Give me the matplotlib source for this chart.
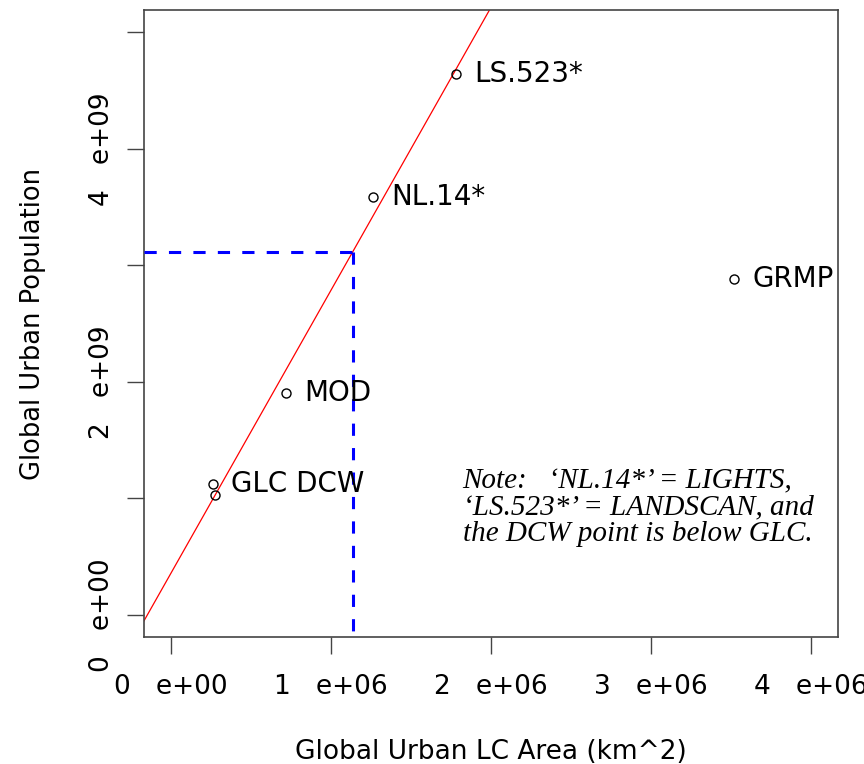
import matplotlib
matplotlib.use("Agg")
import matplotlib.pyplot as plt

# data (area in km^2, population in people)
names = ["LS.523*", "NL.14*", "GRMP", "MOD", "GLC", "DCW"]
labels = ["LS.523*", "NL.14*", "GRMP", "MOD", "GLC DCW", ""]
area = [1.781e6, 1.264e6, 3.521e6, 0.719e6, 0.260e6, 0.275e6]
pop = [4.641e9, 3.585e9, 2.882e9, 1.903e9, 1.122e9, 1.030e9]

# fitted line pop = intercept + slope * area
fit_intercept = 0.36e9
fit_slope = 2428.0
target_pop = 3.119e9

xticks = [0, 1e6, 2e6, 3e6, 4e6]
xtick_labels = ["0   e+00", "1   e+06", "2   e+06", "3   e+06", "4   e+06"]
yticks = [0, 1e9, 2e9, 3e9, 4e9, 5e9]
ytick_labels = ["0   e+00", "", "2   e+09", "", "4   e+09", ""]

note = ("Note:   \u2018NL.14*\u2019 = LIGHTS,\n"
        "\u2018LS.523*\u2019 = LANDSCAN, and\n"
        "the DCW point is below GLC.")

plt.rcParams["font.family"] = "DejaVu Sans"

fig = plt.figure(figsize=(8.64, 7.64), dpi=100)
ax = fig.add_axes([144 / 864, 127 / 764, 694 / 864, 627 / 764])

ax.set_xlim(-0.169e6, 4.169e6)
ax.set_ylim(-0.189e9, 5.193e9)

# regression line
ax.axline((0, fit_intercept), slope=fit_slope, color="red", linewidth=0.9, zorder=2)

# dashed guide lines at target population
target_area = (target_pop - fit_intercept) / fit_slope
x0 = ax.get_xlim()[0]
y0 = ax.get_ylim()[0]
ax.plot([x0, target_area], [target_pop, target_pop], color="#0000FF",
        linewidth=2.2, linestyle=(0, (4, 4)), zorder=3)
ax.plot([target_area, target_area], [target_pop, y0], color="#0000FF",
        linewidth=2.2, linestyle=(0, (4, 4)), zorder=3)

# points
ax.plot(area, pop, linestyle="none", marker="o", markersize=6.5,
        markerfacecolor="none", markeredgecolor="black", markeredgewidth=1.0, zorder=4)
for x, y, lab in zip(area, pop, labels):
    if lab:
        ax.annotate(lab, (x, y), xytext=(13, 0), textcoords="offset points",
                    ha="left", va="center", fontsize=20, color="black",
                    annotation_clip=False, clip_on=True)

# note
ax.text(0.459, 0.206, note, transform=ax.transAxes, ha="left", va="center",
        fontsize=21, family="Liberation Serif", style="italic", linespacing=1.0)

# axes styling (R base look)
for s in ax.spines.values():
    s.set_color("#444444")
    s.set_linewidth(1.2)
ax.set_xticks(xticks)
ax.set_xticklabels(xtick_labels)
ax.set_yticks(yticks)
ax.set_yticklabels(ytick_labels, rotation=90, va="center")
ax.tick_params(axis="both", direction="out", length=12, width=1.0, color="#444444",
               labelsize=19)
ax.tick_params(axis="x", pad=14.5)
ax.tick_params(axis="y", pad=9)

ax.set_xlabel("Global Urban LC Area (km^2)", fontsize=19, labelpad=28)
ax.set_ylabel("Global Urban Population", fontsize=18.5, labelpad=31)

fig.savefig("out.png", dpi=100, facecolor="white")
